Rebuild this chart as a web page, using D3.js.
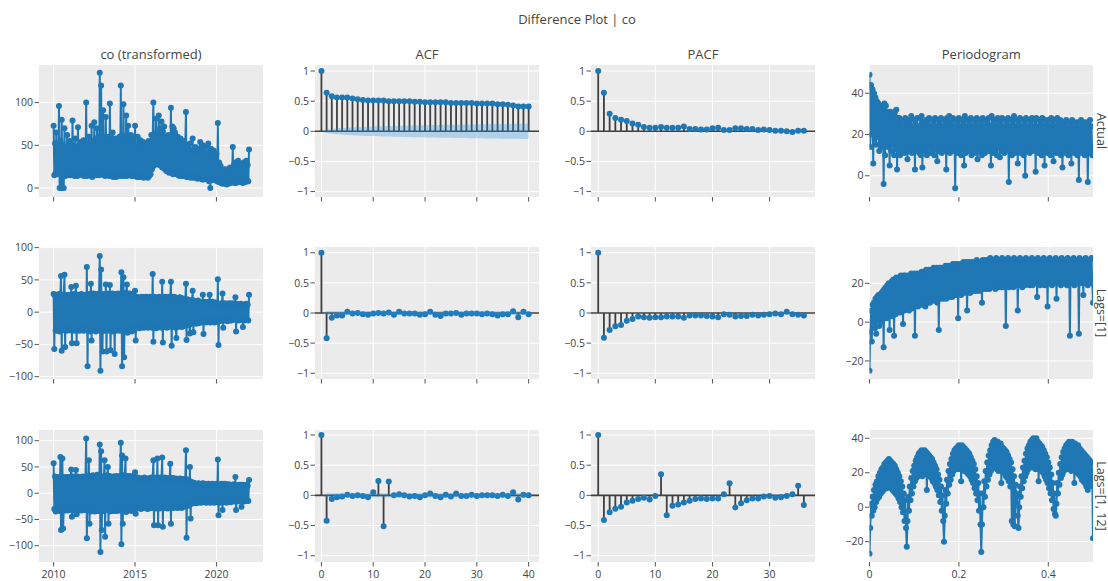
<!doctype html>
<html>
<head>
<meta charset="utf-8">
<script src="https://cdnjs.cloudflare.com/ajax/libs/d3/7.8.5/d3.min.js"></script>
<style>
  body { margin: 0; background: #fff; }
  svg { font-family: "Open Sans", "Noto Sans", sans-serif; }
</style>
</head>
<body>
<svg id="chart" width="1108" height="581"></svg>
<script>
// ---- data ----
// twice-monthly samples (1st and 16th), Jan 2010 .. Jan 2022
var coTransformed = [
  73, 15, 52, 18, 65, 16, 48, 17, 96, 0, 55, 0, 80, 0, 50, 0, 70, 14, 48, 16, 62, 15, 50, 16,
  55, 15, 48, 17, 79, 16, 50, 14, 58, 15, 46, 14, 71, 15, 50, 16, 54, 16, 47, 15, 56, 14, 49, 15,
  100, 14, 52, 15, 60, 15, 50, 16, 73, 13, 55, 17, 77, 16, 58, 15, 70, 18, 60, 15, 135, 18, 120, 16,
  16, 91, 15, 60, 14, 83, 15, 55, 16, 60, 14, 99, 15, 58, 14, 65, 13, 52, 15, 58, 13, 50, 15, 54,
  14, 60, 15, 120, 14, 62, 15, 98, 14, 60, 15, 85, 14, 60, 73, 15, 55, 16, 62, 14, 52, 15, 58, 14,
  73, 14, 52, 13, 60, 15, 50, 13, 56, 14, 48, 15, 54, 12, 46, 13, 52, 14, 47, 12, 55, 14, 50, 16,
  62, 22, 58, 100, 26, 62, 28, 81, 30, 65, 28, 85, 27, 70, 26, 78, 24, 66, 25, 72, 22, 60, 20, 58,
  20, 62, 18, 58, 19, 94, 18, 72, 16, 70, 17, 65, 17, 54, 16, 60, 15, 52, 14, 58, 15, 50, 14, 55,
  55, 14, 50, 89, 13, 50, 14, 46, 13, 52, 12, 44, 13, 58, 12, 46, 13, 48, 12, 42, 11, 46, 12, 44,
  54, 11, 44, 10, 50, 10, 42, 11, 48, 12, 40, 10, 52, 8, 42, 0, 46, 9, 40, 10, 44, 10, 38, 9,
  40, 8, 76, 7, 30, 8, 26, 6, 22, 5, 20, 6, 22, 5, 20, 4, 22, 5, 19, 6, 24, 6, 22, 7,
  48, 7, 28, 6, 30, 6, 26, 7, 32, 8, 27, 7, 28, 7, 25, 6, 30, 8, 26, 7, 32, 9, 27, 8,
  45
];
var coLag1 = [
  28, -57, 26, -28, 27, -29, 25, -27, 28, -30, 26, 56, -60, 27, -28, 26, 58, -54, 27, -29, 25, -27, 26, -28,
  27, -28, 39, -48, 26, -27, 28, -29, 25, 41, -48, 27, -28, 26, -29, 27, -26, 28, -27, 25, -29, 26, -28, 27,
  -28, 70, -84, 27, -29, 28, -30, 44, -44, 27, -28, 29, -27, 28, -30, 26, -29, 28, -27, 29, 87, -91, 66, -30,
  -61, 28, -29, 27, -28, 43, -61, 29, -27, 28, -29, 42, -59, 27, -28, 29, -30, 28, -65, 27, -29, 28, -27, 29,
  -28, 27, -29, 28, 62, -84, 28, 54, -70, 27, -29, 30, 43, -32, 28, -27, 29, -28, 27, -30, 28, -27, 26, -28,
  33, -44, 24, -23, 22, -24, 23, -25, 22, -23, 24, -22, 23, -24, 22, -23, 24, -22, 23, -24, 22, -23, 24, -22,
  23, -24, 59, -46, 24, -23, 22, -25, 23, -24, 22, -23, 24, -22, 23, -24, 47, -47, 22, -23, 24, -22, 23, -24,
  22, -23, 24, -22, 23, 47, -52, 22, -23, 24, -22, 23, -24, -40, 22, -23, 21, -22, 23, -21, 22, -23, 21, -22,
  20, -21, 19, 44, -43, 20, -19, 18, -20, -33, 19, -18, 17, 33, -31, 18, -17, 16, -18, 17, -16, 18, -17, 16,
  15, -16, 14, -15, 27, -34, 16, -15, 14, -16, 15, -14, 16, -15, 27, -16, 15, -14, 16, -15, 14, -16, 15, -14,
  14, -15, 51, -51, 13, -14, 12, -13, 14, 29, -24, 13, -12, 14, -13, 12, -14, 13, -12, 14, -13, 12, -13, 14,
  -12, 13, -11, 12, 23, -30, 13, -12, 11, -13, 12, -11, 13, -12, 11, -23, 12, -13, 11, -12, 13, -11, 12, -13,
  27
];
var coLag12 = [
  57, -30, 32, -35, 30, -33, 31, -32, 29, -34, 69, -70, 31, 66, -67, -32, 30, -33, 31, -31, 30, -33, 31, -32,
  -30, 31, 45, -45, 32, -33, 31, -31, 30, 44, -40, 32, -30, 31, -33, 30, -32, 31, -33, 32, -31, 29, -32, 30,
  104, -86, 32, -33, 63, -58, 33, -35, 32, -34, 34, -33, 33, -35, 32, -34, 35, -33, 33, -34, 93, -112, 80, -70,
  32, -34, 31, 63, -83, 33, -32, 34, 50, -58, 33, -35, 32, -34, 31, -33, 32, -34, 31, -32, 33, -34, 31, -33,
  32, -33, 33, 96, -97, 72, -58, 34, -33, 32, 66, -36, 33, -34, 32, -31, 33, -32, 31, -34, 32, -31, 33, -32,
  40, -39, 28, -29, 30, -27, 29, -28, 27, -30, 28, -27, 29, -28, 30, -27, 28, -29, 27, -30, 28, -27, 29, -28,
  30, -28, 29, 63, -61, 28, -29, 30, -27, 66, -61, 28, -29, 30, -28, 29, 68, -64, 29, -28, 30, -27, 29, -28,
  -29, 28, -27, 29, 56, -58, 28, -27, 29, -28, 27, -26, 28, -27, 26, -28, 27, -26, 28, -27, 26, -28, 27, -26,
  26, -25, 27, 82, -85, 26, -24, 25, -23, 50, -48, 22, -20, 19, -18, 20, -17, 18, -19, 17, -18, 19, -17, 18,
  17, -18, 18, -17, 19, -16, 18, -17, 16, -18, 17, -16, 18, -17, 16, -18, 17, -16, 18, -17, 16, -18, 17, -16,
  18, -17, 64, -42, 17, -18, 16, -17, 18, -32, 16, -17, 18, -16, 17, -18, 15, -16, 17, -15, 16, -17, 15, -16,
  16, -15, 17, -16, 31, -32, 15, -16, 14, -15, 16, -14, 15, -26, 16, -15, 14, -16, 15, -14, 16, -15, 14, -15,
  25
];

// ACF, lags 0..40
var acfActual = [1, 0.64, 0.58, 0.56, 0.56, 0.56, 0.545, 0.53, 0.52, 0.51, 0.51, 0.51, 0.51, 0.50, 0.50, 0.50, 0.50, 0.50, 0.49, 0.49,
  0.48, 0.48, 0.48, 0.48, 0.48, 0.47, 0.47, 0.47, 0.47, 0.47, 0.46, 0.46, 0.46, 0.46, 0.45, 0.45, 0.44, 0.43, 0.41, 0.41, 0.41];
var acfLag1 = [1, -0.42, -0.08, -0.04, -0.04, 0.02, -0.01, 0, -0.02, -0.03, -0.01, 0, -0.01, 0.01, -0.03, 0.02, -0.01, -0.01, -0.01, -0.03,
  -0.02, 0.02, -0.03, -0.05, -0.01, -0.01, 0, -0.03, -0.01, -0.01, -0.01, -0.02, -0.01, -0.02, -0.04, -0.02, -0.02, 0.03, -0.07, 0.02, -0.02];
var acfLag12 = [1, -0.42, -0.06, -0.03, -0.02, 0.01, -0.01, 0, -0.01, -0.03, 0.05, 0.24, -0.51, 0.23, 0, 0.02, 0, -0.02, -0.01, -0.03,
  0, 0.03, -0.01, -0.03, 0.01, -0.02, 0.03, -0.01, -0.01, 0.01, -0.01, 0, 0, 0, -0.01, 0.01, -0.01, 0.05, -0.07, 0.01, 0];
// half width of the confidence band
var acfBandActual = [0, 0.03, 0.04, 0.05, 0.055, 0.06, 0.065, 0.07, 0.073, 0.076, 0.079, 0.082, 0.085, 0.087, 0.089, 0.091, 0.093, 0.095, 0.097, 0.099,
  0.101, 0.103, 0.104, 0.106, 0.107, 0.109, 0.110, 0.112, 0.113, 0.114, 0.116, 0.117, 0.118, 0.120, 0.121, 0.122, 0.123, 0.124, 0.125, 0.126, 0.127];
var acfBandLag1 = [0, 0.030, 0.033, 0.033, 0.033, 0.033, 0.033, 0.033, 0.033, 0.033, 0.033, 0.033, 0.033, 0.033, 0.033, 0.033, 0.033, 0.033, 0.033, 0.033,
  0.033, 0.034, 0.034, 0.034, 0.034, 0.034, 0.034, 0.034, 0.034, 0.034, 0.034, 0.034, 0.034, 0.034, 0.034, 0.034, 0.034, 0.034, 0.035, 0.035, 0.035];
var acfBandLag12 = [0, 0.030, 0.033, 0.033, 0.033, 0.033, 0.033, 0.033, 0.033, 0.033, 0.033, 0.033, 0.036, 0.037, 0.037, 0.037, 0.037, 0.037, 0.037, 0.037,
  0.037, 0.037, 0.037, 0.037, 0.037, 0.037, 0.037, 0.037, 0.037, 0.037, 0.037, 0.037, 0.037, 0.037, 0.037, 0.037, 0.037, 0.037, 0.038, 0.038, 0.038];

// PACF, lags 0..36
var pacfActual = [1, 0.64, 0.29, 0.22, 0.19, 0.17, 0.13, 0.11, 0.07, 0.06, 0.06, 0.07, 0.06, 0.06, 0.06, 0.08, 0.04, 0.04, 0.03, 0.03,
  0.05, 0.06, 0.02, 0.02, 0.05, 0.05, 0.04, 0.04, 0.02, 0.03, 0.02, 0.01, 0.01, 0, -0.01, 0.01, 0.01];
var pacfLag1 = [1, -0.41, -0.28, -0.22, -0.2, -0.13, -0.1, -0.06, -0.07, -0.08, -0.07, -0.07, -0.06, -0.06, -0.06, -0.08, -0.04, -0.04, -0.04, -0.05,
  -0.06, -0.07, -0.02, -0.03, -0.06, -0.05, -0.05, -0.03, -0.04, -0.03, -0.02, -0.01, -0.02, 0.02, -0.02, -0.03, -0.04];
var pacfLag12 = [1, -0.41, -0.28, -0.22, -0.19, -0.12, -0.09, -0.06, -0.04, -0.07, -0.01, 0.35, -0.33, -0.17, -0.15, -0.12, -0.09, -0.06, -0.05, -0.06,
  -0.05, -0.05, 0.02, 0.2, -0.2, -0.13, -0.08, -0.05, -0.05, -0.02, -0.01, -0.04, -0.03, -0.01, 0.02, 0.16, -0.16];

// periodogram, frequencies 0..0.5 step 1/600
var pgActual = [
  49, 14, 44, 20, 42, 6, 40, 18, 38, 15, 36, 19, 35, 12, 34, 16, 33, 14, 33, -4,
  35, 10, 34, 16, 31, 14, 30, 5, 31, 12, 30, 15, 29, 10, 31, 13, 32, 3, 28, 12,
  28, 10, 25, 14, 27, 12, 24, 11, 28, 13, 26, 8, 25, 12, 27, 14, 29, 11, 24, 13,
  27, 3, 25, 12, 28, 14, 24, 11, 28, 10, 29, 4, 26, 13, 24, 12, 27, 10, 25, 14,
  28, 11, 24, 13, 27, 12, 25, 10, 28, 13, 24, 7, 27, 12, 25, 14, 28, 11, 24, 12,
  27, 13, 25, 3, 28, 12, 24, 29, 11, 13, 26, 12, 28, 14, 24, -6, 27, 11, 25, 13,
  28, 12, 24, 10, 27, 13, 25, 5, 29, 11, 24, 14, 27, 12, 25, 13, 28, 10, 24, 12,
  27, 13, 25, 11, 28, 8, 24, 12, 27, 14, 25, 10, 28, 13, 24, 11, 27, 12, 26, 13,
  28, 12, 24, 5, 29, 11, 25, 13, 27, 12, 24, 10, 28, 14, 25, 9, 27, 12, 28, 13,
  24, 11, 27, 12, 25, 14, 28, -3, 24, 12, 27, 10, 25, 13, 29, 11, 24, 12, 27, 6,
  25, 13, 28, 11, 24, 12, 27, 10, 25, 0, 28, 13, 24, 12, 27, 11, 25, 14, 28, 12,
  24, 13, 27, 2, 28, 12, 24, 11, 27, 13, 25, 10, 28, 12, 24, 5, 27, 13, 25, 11,
  27, 12, 24, 10, 28, 13, 25, 7, 27, 12, 24, 11, 28, 13, 25, 12, 27, 10, 24, 4,
  26, 12, 24, 11, 27, 13, 23, 10, 26, 12, 24, 6, 27, 13, 23, 11, 26, 12, 24, 10,
  26, -2, 23, 12, 27, 11, 24, 13, 26, 10, 23, 12, 26, -3, 24, 11, 27, 12, 24, 10,
  12
];
var pgLag1 = [
  -25, -5, 6, -10, 9, 0, 10, -3, 12, -6, 13, 1, 14, -2, 14, 2, 15, 0, 16, -13,
  17, 3, 18, 2, 19, 4, 20, -4, 20, 5, 21, 3, 22, -7, 22, 4, 23, 5, 22, 6,
  23, 5, 24, 7, 23, -1, 24, 6, 24, 7, 23, 8, 24, 6, 24, 8, 25, 7, 24, 8,
  25, -7, 24, 9, 25, 8, 24, 9, 25, 10, 26, 9, 25, 10, 26, 8, 27, 10, 26, 11,
  27, 10, 26, 11, 27, 12, 28, 11, 27, 12, 28, 10, 27, -4, 28, 12, 28, 13, 27, 12,
  28, 13, 29, 12, 28, 14, 29, 13, 28, 14, 29, 13, 30, 14, 29, 15, 30, 14, 29, 2,
  30, 15, 29, 14, 30, 16, 31, 15, 30, 16, 31, 6, 30, 16, 31, 15, 30, 17, 31, 16,
  30, 17, 31, 16, 32, 17, 31, 16, 30, 18, 31, 10, 32, 17, 31, 18, 32, 17, 31, 18,
  32, 17, 33, 18, 32, 19, 31, 18, 32, 17, 33, 19, 32, 18, 31, 19, 32, 18, 33, 19,
  32, 18, 31, -2, 32, 19, 33, 18, 32, 20, 31, 19, 32, 18, 33, 20, 32, 19, 31, 6,
  32, 20, 33, 19, 32, 18, 31, 20, 32, 19, 33, 20, 32, 21, 31, 19, 32, 20, 33, 19,
  32, 20, 31, 21, 32, 13, 33, 20, 32, 19, 31, 21, 32, 20, 33, 19, 32, 21, 31, 8,
  32, 20, 33, 21, 32, 19, 31, 20, 32, 21, 33, 12, 32, 20, 31, 21, 32, 19, 33, 20,
  32, 21, 31, 20, 32, 19, 33, 21, 32, -7, 31, 20, 32, 21, 33, 19, 32, 20, 31, 21,
  32, -6, 33, 20, 32, 21, 31, 14, 32, 20, 33, 21, 32, 19, 31, 20, 32, 21, 33, 20,
  10
];
var pgLag12 = [
  -27,
  -12, 2, -5, 6, -2, 10, 0, 13, 3, 15, 5, 18, 6, 20, 8, 22, 9, 23, 10, 25, 12, 26, 11, 27, 13,
  28, 12, 27, 11, 26, 10, 25, 9, 24, 8, 22, 7, 20, 5, 18, 3, 15, 0, 12, -3, 8, -8, 4, -12,
  -23,
  -8, 6, -2, 12, 4, 17, 8, 21, 12, 24, 15, 27, 17, 29, 18, 31, 19, 32, 20, 33, 18, 32, 19, 33, 20,
  32, 10, 31, 19, 30, 18, 29, 17, 28, 15, 26, 14, 24, 12, 22, 10, 19, 7, 16, 3, 12, -2, 7, -8,
  -20,
  -5, 10, 2, 16, 8, 21, 13, 25, 16, 28, 19, 31, 21, 33, 22, 34, 23, 35, 22, 36, 23, 35, 15, 36, 22,
  35, 21, 34, 22, 33, 20, 32, 19, 31, 18, 29, 16, 27, 14, 25, 11, 22, 8, 18, 4, 14, -2, 8, -10,
  -26,
  -10, 8, 0, 15, 6, 21, 12, 26, 16, 30, 19, 33, 21, 36, 23, 38, 24, 39, 23, 37, 22, 38, 21, 36, 22,
  37, 14, 35, 21, 34, 20, 33, 18, 32, 17, 30, 15, 28, 12, 26, -8, 22, -10, 18, -11, 13, 2, 8, -5,
  -12,
  0, 12, 6, 18, 11, 23, 15, 27, 18, 31, 20, 34, 22, 36, 23, 38, 24, 39, 23, 40, 24, 39, 22, 40, 23,
  38, 15, 37, 22, 36, 21, 35, 20, 33, 18, 31, 16, 29, 14, 26, 11, 23, 8, 19, 4, 14, -1, 8, -4,
  -5,
  2, 14, 8, 20, 13, 25, 17, 29, 19, 32, 21, 34, 22, 36, 23, 37, 22, 38, 23, 37, 21, 38, 22, 36, 14,
  37, 21, 35, 20, 36, 19, 34, 18, 33, 16, 32, 15, 31, 14, 30, 12, 29, 10, 28, 12, 27, 15, 26, 20,
  -18
];

var rowLabels = ["Actual", "Lags=[1]", "Lags=[1, 12]"];
var colTitles = ["co (transformed)", "ACF", "PACF", "Periodogram"];
var tsTicks = [2010, 2015, 2020];
var acfTicks = [0, 10, 20, 30, 40];
var pacfTicks = [0, 10, 20, 30];
var pgTicks = [0, 0.2, 0.4];
var corrYTicks = [-1, -0.5, 0, 0.5, 1];
var tsYTicks = [[0, 50, 100], [-100, -50, 0, 50, 100], [-100, -50, 0, 50, 100]];
var pgYTicks = [[0, 20, 40], [-20, 0, 20], [-20, 0, 20, 40]];

// ---- layout ----
var blue = "#1f77b4", stem = "#3f3f3f", txt = "#444";
var colX = [39, 315, 591, 869.5], colW = [224, 224, 224, 223.5];
var rowY = [65, 247, 430], rowH = 132;
var tsYDom = [[-10.5, 144], [-103.6, 101], [-131, 120.4]];
var corrYDom = [[-1.09, 1.1], [-1.095, 1.095], [-1.104, 1.083]];
var pgYDom = [[-10.3, 53.7], [-29.3, 38.7], [-31.8, 44.8]];

var svg = d3.select("#chart");
var fmt = function(v) { return String(v).replace("-", "\u2212"); };

svg.append("text").attr("x", 577).attr("y", 24).attr("text-anchor", "middle")
  .attr("font-size", 13).attr("fill", txt).text("Difference Plot | co");

colTitles.forEach(function(t, c) {
  svg.append("text").attr("x", colX[c] + colW[c] / 2).attr("y", 59).attr("text-anchor", "middle")
    .attr("font-size", 13).attr("fill", txt).text(t);
});

rowLabels.forEach(function(t, r) {
  var cy = rowY[r] + rowH / 2;
  svg.append("text").attr("transform", "translate(1101," + cy + ") rotate(90)")
    .attr("text-anchor", "middle").attr("dominant-baseline", "central")
    .attr("font-size", 12.5).attr("fill", txt).text(t);
});

var clipId = 0;
function frame(r, c, x, y, xt, yt, xfmt, showX) {
  var g = svg.append("g");
  var x0 = colX[c], y0 = rowY[r], w = colW[c];
  g.append("rect").attr("x", x0).attr("y", y0).attr("width", w).attr("height", rowH).attr("fill", "#ebebeb");
  g.selectAll(".gx").data(xt).enter().append("line")
    .attr("x1", function(d) { return x(d); }).attr("x2", function(d) { return x(d); })
    .attr("y1", y0).attr("y2", y0 + rowH).attr("stroke", "#fff").attr("stroke-width", 1);
  g.selectAll(".gy").data(yt).enter().append("line")
    .attr("y1", function(d) { return y(d); }).attr("y2", function(d) { return y(d); })
    .attr("x1", x0).attr("x2", x0 + w).attr("stroke", "#fff").attr("stroke-width", 1);
  // ticks
  g.selectAll(".tx").data(xt).enter().append("line")
    .attr("x1", function(d) { return x(d); }).attr("x2", function(d) { return x(d); })
    .attr("y1", y0 + rowH).attr("y2", y0 + rowH + 4.5).attr("stroke", "#555").attr("stroke-width", 1);
  g.selectAll(".ty").data(yt).enter().append("line")
    .attr("y1", function(d) { return y(d); }).attr("y2", function(d) { return y(d); })
    .attr("x1", x0 - 4.5).attr("x2", x0).attr("stroke", "#555").attr("stroke-width", 1);
  g.selectAll(".ly").data(yt).enter().append("text")
    .attr("x", x0 - 6).attr("y", function(d) { return y(d); }).attr("dy", "0.35em")
    .attr("text-anchor", "end").attr("font-size", 10.5).attr("fill", txt).text(fmt);
  if (showX) {
    g.selectAll(".lx").data(xt).enter().append("text")
      .attr("x", function(d) { return x(d); }).attr("y", y0 + rowH + 15.5)
      .attr("text-anchor", "middle").attr("font-size", 10.5).attr("fill", txt)
      .text(function(d) { return xfmt(d); });
  }
  var id = "clip" + (clipId++);
  svg.append("clipPath").attr("id", id).append("rect")
    .attr("x", x0).attr("y", y0).attr("width", w).attr("height", rowH);
  return svg.append("g").attr("clip-path", "url(#" + id + ")");
}

function series(g, xs, ys, x, y) {
  var pts = ys.map(function(v, i) { return [x(xs[i]), y(v)]; });
  g.append("path").attr("d", d3.line()(pts)).attr("fill", "none")
    .attr("stroke", blue).attr("stroke-width", 2).attr("stroke-linejoin", "round");
  g.selectAll(".m").data(pts).enter().append("circle")
    .attr("cx", function(d) { return d[0]; }).attr("cy", function(d) { return d[1]; })
    .attr("r", 3).attr("fill", blue);
}

function corr(g, vals, band, x, y) {
  var lags = d3.range(vals.length);
  var x0 = x.range()[0], x1 = x.range()[1];
  g.append("line").attr("x1", x0).attr("x2", x1).attr("y1", y(0)).attr("y2", y(0))
    .attr("stroke", stem).attr("stroke-width", 1.6);
  g.selectAll(".s").data(lags).enter().append("line")
    .attr("x1", function(d) { return x(d); }).attr("x2", function(d) { return x(d); })
    .attr("y1", y(0)).attr("y2", function(d) { return y(vals[d]); })
    .attr("stroke", stem).attr("stroke-width", 1.8);
  g.selectAll(".m").data(lags).enter().append("circle")
    .attr("cx", function(d) { return x(d); }).attr("cy", function(d) { return y(vals[d]); })
    .attr("r", 3).attr("fill", blue);
  if (band) {
    var area = d3.area().x(function(d) { return x(d); })
      .y0(function(d) { return y(-band[d]); }).y1(function(d) { return y(band[d]); });
    g.append("path").attr("d", area(lags)).attr("fill", "rgba(32,146,230,0.3)");
  }
}

// date grid: 1st and 16th of every month
var halfMonths = [];
d3.timeMonth.range(new Date(2010, 0, 1), new Date(2022, 0, 2)).forEach(function(m) {
  halfMonths.push(m, d3.timeDay.offset(m, 15));
});
var freqs = d3.range(pgActual.length).map(function(i) { return i / 600; });
var tsData = [coTransformed, coLag1, coLag12];
var acfData = [acfActual, acfLag1, acfLag12];
var acfBands = [acfBandActual, acfBandLag1, acfBandLag12];
var pacfData = [pacfActual, pacfLag1, pacfLag12];
var pgData = [pgActual, pgLag1, pgLag12];

for (var r = 0; r < 3; r++) {
  var last = r === 2;
  var y0 = rowY[r], y1 = rowY[r] + rowH;

  // time series
  var xt = d3.scaleTime().domain([new Date(2009, 1, 7), new Date(2022, 10, 10)]).range([colX[0], colX[0] + colW[0]]);
  var yt = d3.scaleLinear().domain(tsYDom[r]).range([y1, y0]);
  var g = frame(r, 0, xt, yt, tsTicks.map(function(yr) { return new Date(yr, 0, 1); }), tsYTicks[r],
    function(d) { return d.getFullYear(); }, last);
  series(g, halfMonths, tsData[r], xt, yt);

  // ACF
  var xa = d3.scaleLinear().domain([-1.24, 42]).range([colX[1], colX[1] + colW[1]]);
  var ya = d3.scaleLinear().domain(corrYDom[r]).range([y1, y0]);
  g = frame(r, 1, xa, ya, acfTicks, corrYTicks, String, last);
  corr(g, acfData[r], acfBands[r], xa, ya);

  // PACF
  var xp = d3.scaleLinear().domain([-1.26, 37.95]).range([colX[2], colX[2] + colW[2]]);
  g = frame(r, 2, xp, ya, pacfTicks, corrYTicks, String, last);
  corr(g, pacfData[r], null, xp, ya);

  // periodogram
  var xf = d3.scaleLinear().domain([0, 0.5]).range([colX[3], colX[3] + colW[3]]);
  var yf = d3.scaleLinear().domain(pgYDom[r]).range([y1, y0]);
  g = frame(r, 3, xf, yf, pgTicks, pgYTicks[r], String, last);
  series(g, freqs, pgData[r], xf, yf);
}
</script>
</body>
</html>
